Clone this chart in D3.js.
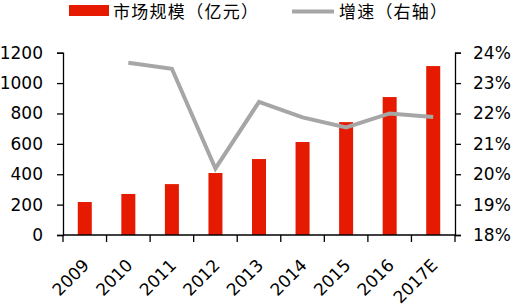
<!DOCTYPE html>
<html>
<head>
<meta charset="utf-8">
<script src="https://cdn.jsdelivr.net/npm/d3@7"></script>
<style>
  body { margin: 0; background: #fff; }
  svg { display: block; }
</style>
</head>
<body>
<div id="chart"></div>
<script>
// chart data
const years = ["2009", "2010", "2011", "2012", "2013", "2014", "2015", "2016", "2017E"];
const marketSize = [217, 270, 335, 408, 500, 612, 743, 908, 1112];
const growthRate = [null, 23.67, 23.47, 20.19, 22.38, 21.87, 21.54, 22.0, 21.88];
const leftTicks = [0, 200, 400, 600, 800, 1000, 1200];
const rightTicks = [18, 19, 20, 21, 22, 23, 24];
const barLabel = "市场规模（亿元）";
const lineLabel = "增速（右轴）";

const width = 514, height = 306;
const margin = { top: 52.7, right: 59, bottom: 71, left: 63 };
const font = "DejaVu Sans, Verdana, sans-serif";
const cjkFont = "Noto Sans CJK SC, sans-serif";
const barColor = "#E51A00";
const lineColor = "#A6A6A6";

const svg = d3.select("#chart").append("svg")
    .attr("width", width)
    .attr("height", height);

svg.append("rect").attr("width", width).attr("height", height).attr("fill", "#fff");

const x = d3.scaleBand()
    .domain(years)
    .range([margin.left, width - margin.right]);

const yLeft = d3.scaleLinear()
    .domain([0, 1200])
    .range([height - margin.bottom, margin.top]);

const yRight = d3.scaleLinear()
    .domain([18, 24])
    .range([height - margin.bottom, margin.top]);

// bars
const barW = 14;
svg.append("g").selectAll("rect")
    .data(marketSize)
    .join("rect")
    .attr("x", (d, i) => x(years[i]) + x.bandwidth() / 2 - barW / 2)
    .attr("y", d => yLeft(d))
    .attr("width", barW)
    .attr("height", d => yLeft(0) - yLeft(d))
    .attr("fill", barColor);

// growth line (no value for 2009)
const line = d3.line()
    .defined(d => d != null)
    .x((d, i) => x(years[i]) + x.bandwidth() / 2)
    .y(d => yRight(d));

svg.append("path")
    .attr("d", line(growthRate))
    .attr("fill", "none")
    .attr("stroke", lineColor)
    .attr("stroke-width", 4);

// axes
function styleAxis(g) {
    g.selectAll("path, line").attr("stroke", "#000").attr("stroke-width", 1.3);
    g.selectAll("text").attr("fill", "#000").style("font-family", font).style("font-size", "17px");
}

svg.append("g")
    .attr("transform", `translate(${margin.left},0)`)
    .call(d3.axisLeft(yLeft).tickValues(leftTicks).tickFormat(d3.format("d"))
        .tickSize(6).tickSizeOuter(6).tickPadding(14))
    .call(styleAxis);

svg.append("g")
    .attr("transform", `translate(${width - margin.right},0)`)
    .call(d3.axisRight(yRight).tickValues(rightTicks).tickFormat(d => d + "%")
        .tickSize(6).tickSizeOuter(6).tickPadding(12))
    .call(styleAxis);

// x axis, ticks sit on the band boundaries
const xAxis = svg.append("g")
    .attr("transform", `translate(0,${height - margin.bottom})`);

xAxis.append("line")
    .attr("x1", margin.left).attr("x2", width - margin.right)
    .attr("stroke", "#000").attr("stroke-width", 1.3);

const bounds = years.map(y => x(y)).concat([x(years[years.length - 1]) + x.bandwidth()]);
xAxis.selectAll(".tick-b")
    .data(bounds)
    .join("line")
    .attr("x1", d => d).attr("x2", d => d)
    .attr("y1", 0).attr("y2", 7)
    .attr("stroke", "#000").attr("stroke-width", 1.3);

xAxis.selectAll(".xl")
    .data(years)
    .join("text")
    .attr("transform", d => `translate(${x(d) + x.bandwidth() / 2 - 3},${23}) rotate(-45)`)
    .attr("text-anchor", "end")
    .attr("dy", "0.7em")
    .style("font-family", font)
    .style("font-size", "17px")
    .attr("fill", "#000")
    .text(d => d);

// legend
const legend = svg.append("g");
legend.append("rect")
    .attr("x", 69).attr("y", 5).attr("width", 40).attr("height", 11)
    .attr("fill", barColor);
legend.append("text")
    .attr("x", 113).attr("y", 17.5)
    .attr("textLength", 145).attr("lengthAdjust", "spacing")
    .style("font-family", cjkFont)
    .style("font-size", "17px")
    .attr("fill", "#000")
    .text(barLabel);
legend.append("line")
    .attr("x1", 292).attr("x2", 334).attr("y1", 11.5).attr("y2", 11.5)
    .attr("stroke", lineColor).attr("stroke-width", 4);
legend.append("text")
    .attr("x", 339).attr("y", 17.5)
    .attr("textLength", 108).attr("lengthAdjust", "spacing")
    .style("font-family", cjkFont)
    .style("font-size", "17px")
    .attr("fill", "#000")
    .text(lineLabel);
</script>
</body>
</html>
